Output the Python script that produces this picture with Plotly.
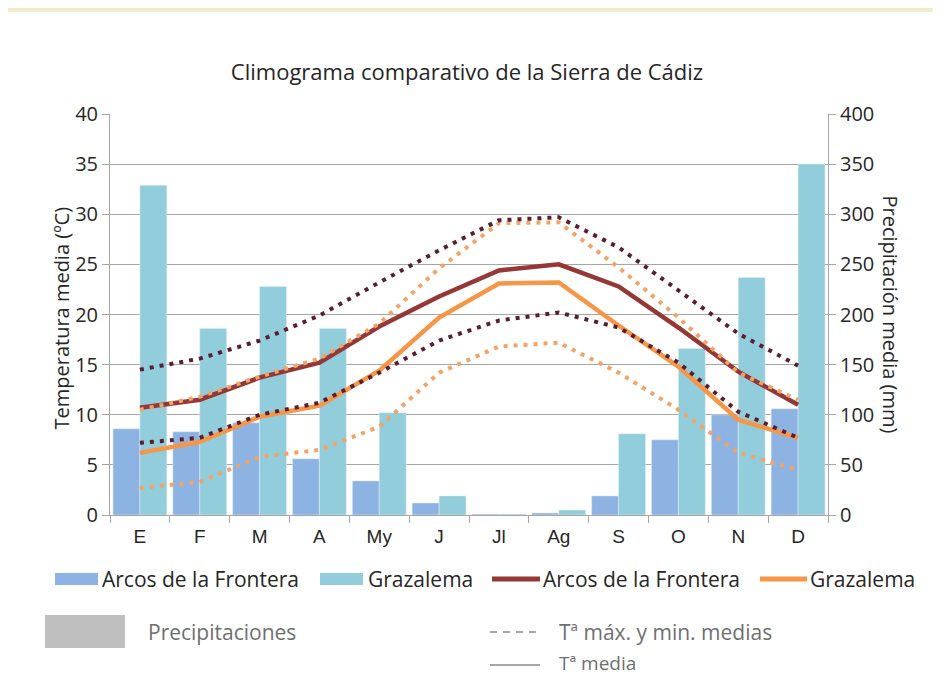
import plotly.graph_objects as go

meses = ["E", "F", "M", "A", "My", "J", "Jl", "Ag", "S", "O", "N", "D"]

prec_arcos = [86, 83, 92, 56, 34, 12, 1, 2, 19, 75, 100, 106]
prec_grazalema = [329, 186, 228, 186, 102, 19, 1, 5, 81, 166, 237, 350]

tmed_arcos = [10.7, 11.5, 13.7, 15.2, 18.8, 21.8, 24.4, 25.0, 22.8, 18.7, 14.3, 11.0]
tmed_grazalema = [6.2, 7.3, 9.8, 10.9, 14.4, 19.7, 23.1, 23.2, 18.9, 14.8, 9.5, 7.7]

tmax_arcos = [14.5, 15.6, 17.4, 19.9, 23.2, 26.4, 29.4, 29.7, 26.7, 22.4, 18.1, 14.9]
tmin_arcos = [7.2, 7.7, 10.0, 11.2, 14.2, 17.4, 19.4, 20.2, 18.7, 15.2, 10.3, 7.7]
tmax_grazalema = [10.5, 11.8, 13.8, 15.6, 19.1, 24.6, 29.1, 29.2, 24.7, 19.7, 14.2, 11.5]
tmin_grazalema = [2.7, 3.3, 5.8, 6.5, 8.8, 14.2, 16.8, 17.2, 14.2, 10.5, 6.2, 4.5]

estaciones = ["Arcos de la Frontera", "Grazalema"]

COLORS = {
    "arcos_bar": "#8DB3E2",
    "graz_bar": "#92CDDC",
    "arcos_line": "#953735",
    "graz_line": "#F79646",
    "arcos_dot": "#5A1E32",
    "graz_dot": "#F2A366",
    "axis": "#A6A6A6",
    "grid": "#A6A6A6",
    "text": "#262626",
    "cream": "#F3EDCD",
}
FONT = "Open Sans, Noto Sans, Arial, sans-serif"

# la página añade 8 px de margen: la figura se dibuja algo más pequeña
OFF = 8
W, H = 941 - OFF, 680 - OFF
# área de trazado en coordenadas de la imagen de referencia
L, R, T, B = 110, 828, 114, 515


def px(x):
    return (x - L) / (R - L)


def py(y):
    return (B - y) / (B - T)


fig = go.Figure()

# Barras de precipitación (eje y principal, a la derecha)
fig.add_trace(go.Bar(x=meses, y=prec_arcos, name=estaciones[0],
                     marker_color=COLORS["arcos_bar"], yaxis="y"))
fig.add_trace(go.Bar(x=meses, y=prec_grazalema, name=estaciones[1],
                     marker_color=COLORS["graz_bar"], yaxis="y"))

# Temperatura media (eje y2, a la izquierda, encima de las barras)
fig.add_trace(go.Scatter(x=meses, y=tmed_arcos, name=estaciones[0], yaxis="y2",
                         mode="lines", line=dict(color=COLORS["arcos_line"], width=4.5)))
fig.add_trace(go.Scatter(x=meses, y=tmed_grazalema, name=estaciones[1], yaxis="y2",
                         mode="lines", line=dict(color=COLORS["graz_line"], width=4.5)))

# Tª máx. y mín. (punteadas)
for serie, col in [(tmax_grazalema, COLORS["graz_dot"]), (tmin_grazalema, COLORS["graz_dot"]),
                   (tmax_arcos, COLORS["arcos_dot"]), (tmin_arcos, COLORS["arcos_dot"])]:
    fig.add_trace(go.Scatter(x=meses, y=serie, mode="lines", yaxis="y2",
                             line=dict(color=col, width=4, dash="4px,6px")))


def rect(x0, x1, y0, y1, color, **kw):
    return dict(type="rect", xref="paper", yref="paper", x0=px(x0), x1=px(x1),
                y0=py(y0), y1=py(y1), fillcolor=color, line_width=0, **kw)


def hline(x0, x1, y, color, width, dash="solid"):
    return dict(type="line", xref="paper", yref="paper", x0=px(x0), x1=px(x1),
                y0=py(y), y1=py(y), line=dict(color=color, width=width, dash=dash))


def label(text, x, y, size, color=COLORS["text"], **kw):
    return dict(text=text, x=px(x), y=py(y), xref="paper", yref="paper",
                xanchor="left", yanchor="middle", showarrow=False,
                font=dict(size=size, color=color), **kw)


shapes = [
    # panel blanco sobre fondo crema
    rect(8, 960, 12, 700, "white", layer="below"),
    # leyenda de series
    rect(55, 98, 573, 585, COLORS["arcos_bar"]),
    rect(320, 363, 573, 585, COLORS["graz_bar"]),
    hline(492, 540, 579, COLORS["arcos_line"], 5),
    hline(760, 807, 579, COLORS["graz_line"], 5),
    # leyenda explicativa
    rect(45, 125, 615, 648, "#BFBFBF"),
    hline(490, 540, 632, "#A6A6A6", 2, "7px,6px"),
    hline(490, 540, 665, "#A6A6A6", 2),
]

annotations = [
    dict(text="Temperatura media (ºC)", x=px(45), y=py(318), xref="paper", yref="paper",
         textangle=-90, showarrow=False, font=dict(size=20, color=COLORS["text"])),
    dict(text="Precipitación media (mm)", x=px(906), y=py(315), xref="paper", yref="paper",
         textangle=90, showarrow=False, font=dict(size=20, color=COLORS["text"])),
    label(estaciones[0], 100, 579, 21),
    label(estaciones[1], 366, 579, 21),
    label(estaciones[0], 541, 579, 21),
    label(estaciones[1], 808, 579, 21),
    label("Precipitaciones", 146, 632, 21, "#6F6F6F"),
    label("Tª máx. y min. medias", 557, 632, 21, "#6F6F6F"),
    label("Tª media", 557, 663, 19, "#6F6F6F"),
]

fig.update_layout(
    width=W, height=H,
    margin=dict(l=L - OFF, r=W - (R - OFF), t=T - OFF, b=H - (B - OFF)),
    paper_bgcolor=COLORS["cream"],
    plot_bgcolor="white",
    font=dict(family=FONT, color=COLORS["text"], size=20),
    title=dict(text="Climograma comparativo de la Sierra de Cádiz",
               x=px(467), xanchor="center", xref="paper", y=1 - (72 - OFF) / H,
               yanchor="middle", font=dict(size=22, color=COLORS["text"])),
    showlegend=False,
    barmode="group", bargap=0.1, bargroupgap=0,
    xaxis=dict(showline=True, linecolor=COLORS["axis"], ticks="outside",
               tickson="boundaries", ticklen=7, tickcolor=COLORS["axis"],
               ticklabelstandoff=4,
               tickfont=dict(size=19, family="Liberation Sans, Arial, sans-serif"),
               showgrid=False),
    yaxis=dict(range=[0, 400], dtick=50, side="right", showgrid=True,
               gridcolor=COLORS["grid"], showline=True, linecolor=COLORS["axis"],
               ticks="outside", ticklen=7, tickcolor=COLORS["axis"], zeroline=False),
    yaxis2=dict(range=[0, 40], dtick=5, overlaying="y", side="left", showgrid=False,
                showline=True, linecolor=COLORS["axis"], ticks="outside", ticklen=7,
                tickcolor=COLORS["axis"], zeroline=False),
    shapes=shapes,
    annotations=annotations,
)

fig.write_html("out.html")
